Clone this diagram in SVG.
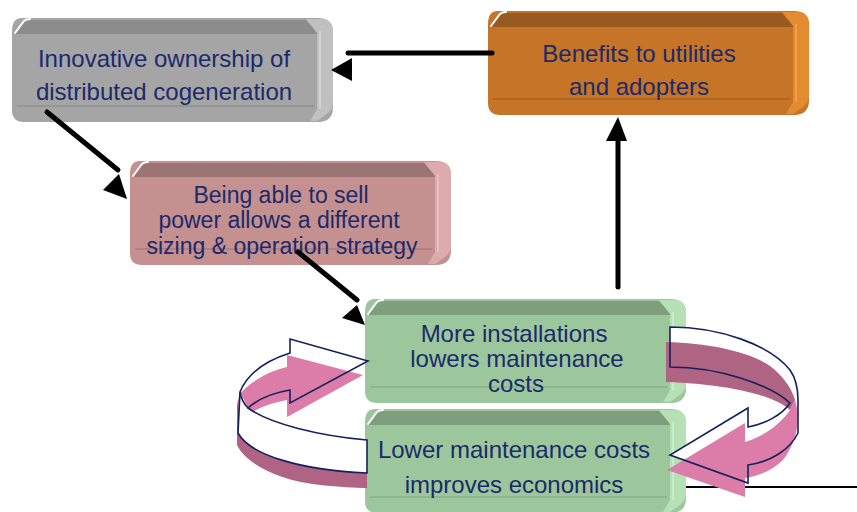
<svg xmlns="http://www.w3.org/2000/svg" width="857" height="512" viewBox="0 0 857 512">
  <style>
    .lbl{font-family:"Liberation Sans",Arial,sans-serif;font-size:24px;fill:#1b2a6b;text-anchor:middle}
    .tight{font-size:23px}
    .hi{fill:none;stroke:#ffffff;stroke-width:2;stroke-linecap:round}
    .gray .face{fill:#a5a5a5}.gray .top{fill:#8d8d8d}.gray .side{fill:#c0c0c0}.gray .rim{stroke:#959595}.gray .sl{stroke:#d2d2d2}
    .orange .face{fill:#c57428}.orange .top{fill:#975a21}.orange .side{fill:#e38b31}.orange .rim{stroke:#b0661f}.orange .sl{stroke:#eea04c}
    .pink .face{fill:#c49090}.pink .top{fill:#9c7473}.pink .side{fill:#dcabab}.pink .rim{stroke:#b38080}.pink .sl{stroke:#e8bdbd}
    .green .face{fill:#9cc79c}.green .top{fill:#7e9e7e}.green .side{fill:#b6e1b6}.green .rim{stroke:#8db88d}.green .sl{stroke:#c8ecc8}
    .rim,.sl{fill:none;stroke-width:2}
    .conn{stroke:#000;stroke-width:5;stroke-linecap:round;fill:none}
    .head{fill:#000}
    .ring{fill:none;stroke:#14215e;stroke-width:1.6;stroke-linejoin:miter}
    .pk-lt{fill:#dc7ca8}
    .pk-dk{fill:#b06484}
  </style>

  <!-- source rule at lower right -->
  <line x1="683" y1="487" x2="857" y2="487" stroke="#000" stroke-width="2"/>

  <!-- bevelled boxes -->
  <g id="node-ownership" class="gray">
    <g transform="translate(12,17)">
      <path class="face" d="M10,1 H306 Q321,1 321,16 V90 Q321,105 306,105 H12 Q0,105 0,93 V14 Q0,1 10,1 Z"/>
      <path class="top" d="M2,17 L13,3 H294 L307,17 Z"/>
      <path class="side" d="M294,2 H309 Q321,2 321,14 V86 Q321,92 315,97 L305,104 H298 L305,92 V16 Z"/>
      <path class="sl" d="M308,14 V92"/>
      <rect class="face" x="2" y="17" width="303" height="73" rx="7"/>
      <path class="rim" d="M5,89 H302"/>
      <path class="hi" d="M3,16 L12,4 Q14,2 18,2"/>
    </g>
    <text class="lbl" x="164" y="67">Innovative ownership of</text>
    <text class="lbl" x="164" y="100">distributed cogeneration</text>
  </g>

  <g id="node-benefits" class="orange">
    <g transform="translate(488,10)">
      <path class="face" d="M10,1 H306 Q321,1 321,16 V90 Q321,105 306,105 H12 Q0,105 0,93 V14 Q0,1 10,1 Z"/>
      <path class="top" d="M2,17 L13,3 H294 L307,17 Z"/>
      <path class="side" d="M294,2 H309 Q321,2 321,14 V86 Q321,92 315,97 L305,104 H298 L305,92 V16 Z"/>
      <path class="sl" d="M308,14 V92"/>
      <rect class="face" x="2" y="17" width="303" height="73" rx="7"/>
      <path class="rim" d="M5,89 H302"/>
      <path class="hi" d="M3,16 L12,4 Q14,2 18,2"/>
    </g>
    <text class="lbl" x="639" y="62">Benefits to utilities</text>
    <text class="lbl" x="639" y="95">and adopters</text>
  </g>

  <g id="node-sell-power" class="pink">
    <g transform="translate(130,160)">
      <path class="face" d="M10,1 H306 Q321,1 321,16 V90 Q321,105 306,105 H12 Q0,105 0,93 V14 Q0,1 10,1 Z"/>
      <path class="top" d="M2,17 L13,3 H294 L307,17 Z"/>
      <path class="side" d="M294,2 H309 Q321,2 321,14 V86 Q321,92 315,97 L305,104 H298 L305,92 V16 Z"/>
      <path class="sl" d="M308,14 V92"/>
      <rect class="face" x="2" y="17" width="303" height="73" rx="7"/>
      <path class="rim" d="M5,89 H302"/>
      <path class="hi" d="M3,16 L12,4 Q14,2 18,2"/>
    </g>
    <text class="lbl tight" x="281" y="203">Being able to sell</text>
    <text class="lbl tight" x="279" y="228">power allows a different</text>
    <text class="lbl tight" x="282" y="254">sizing &amp; operation strategy</text>
  </g>

  <g id="node-installations" class="green">
    <g transform="translate(365,298)">
      <path class="face" d="M10,1 H306 Q321,1 321,16 V90 Q321,105 306,105 H12 Q0,105 0,93 V14 Q0,1 10,1 Z"/>
      <path class="top" d="M2,17 L13,3 H294 L307,17 Z"/>
      <path class="side" d="M294,2 H309 Q321,2 321,14 V86 Q321,92 315,97 L305,104 H298 L305,92 V16 Z"/>
      <path class="sl" d="M308,14 V92"/>
      <rect class="face" x="2" y="17" width="303" height="73" rx="7"/>
      <path class="rim" d="M5,89 H302"/>
      <path class="hi" d="M3,16 L12,4 Q14,2 18,2"/>
    </g>
    <text class="lbl" x="514" y="342">More installations</text>
    <text class="lbl" x="517" y="367">lowers maintenance</text>
    <text class="lbl" x="516" y="392">costs</text>
  </g>

  <g id="node-economics" class="green">
    <g transform="translate(365,408)">
      <path class="face" d="M10,1 H306 Q321,1 321,16 V90 Q321,105 306,105 H12 Q0,105 0,93 V14 Q0,1 10,1 Z"/>
      <path class="top" d="M2,17 L13,3 H294 L307,17 Z"/>
      <path class="side" d="M294,2 H309 Q321,2 321,14 V86 Q321,92 315,97 L305,104 H298 L305,92 V16 Z"/>
      <path class="sl" d="M308,14 V92"/>
      <rect class="face" x="2" y="17" width="303" height="73" rx="7"/>
      <path class="rim" d="M5,89 H302"/>
      <path class="hi" d="M3,16 L12,4 Q14,2 18,2"/>
    </g>
    <text class="lbl" x="514" y="458">Lower maintenance costs</text>
    <text class="lbl" x="514" y="493">improves economics</text>
  </g>

  <!-- connectors -->
  <g id="connectors">
    <line class="conn" x1="492" y1="53" x2="348" y2="53"/>
    <polygon class="head" points="331,70 352,58 352,81"/>

    <line class="conn" x1="47" y1="112" x2="118" y2="170"/>
    <polygon class="head" points="127,199 103,190 119,174"/>

    <line class="conn" x1="298" y1="252" x2="357" y2="300"/>
    <polygon class="head" points="365,325 342,318 357,305"/>

    <line class="conn" x1="618" y1="287" x2="618" y2="140"/>
    <polygon class="head" points="618,117 606,141 627,141"/>

    <!-- left half of the maintenance cycle -->
    <g id="cycle-left">
      <path class="pk-dk" d="M237,403 L237,445 C245,462 275,480 320,485 C340,487 355,488 367,488 L367,453 C330,450 290,442 262,428 C254,424 248,421 245,417 Z"/>
      <path class="pk-lt" d="M363,375 L287,355 L287,367 C265,372 247,385 240,394 L237,403 L245,417 C255,409 270,403 287,400 L287,417 Z"/>
      <path fill="#ffffff" d="M240,392 L238,433 C250,455 300,470 367,473 L367,440 C320,436 270,424 248,408 Z"/>
      <path class="ring" d="M368,361 L290,339 L290,353 C268,360 248,372 240,392 L238,433 C250,455 300,470 367,473 L367,440 C320,436 270,424 248,408 C258,399 272,393 290,390 L290,403 Z"/>
      <path class="ring" d="M248,408 C244,404 241,398 240,392"/>
    </g>

    <!-- right half of the maintenance cycle -->
    <g id="cycle-right">
      <path fill="#ffffff" d="M670,327 C720,327 770,345 790,370 C797,380 798,392 798,400 L798,433 C790,450 770,462 748,465 L748,483 L670,455 L748,408 L748,427 C765,424 782,415 790,403 C770,385 720,367 670,367 Z"/>
      <path class="pk-dk" d="M666,342 C710,343 750,352 770,366 C782,375 792,388 795,400 L790,410 C775,396 730,384 666,382 Z"/>
      <path class="pk-lt" d="M795,400 C800,415 799,440 783,460 C772,471 758,476 745,478 L745,497 L667,470 L745,423 L745,442 C762,437 780,425 790,410 Z"/>
      <path class="ring" d="M670,327 C720,327 770,345 790,370 C797,380 798,392 798,400 L798,433 C790,450 770,462 748,465 L748,483 L670,455 L748,408 L748,427 C765,424 782,415 790,403 C770,385 720,367 670,367 Z"/>
    </g>
  </g>
</svg>
